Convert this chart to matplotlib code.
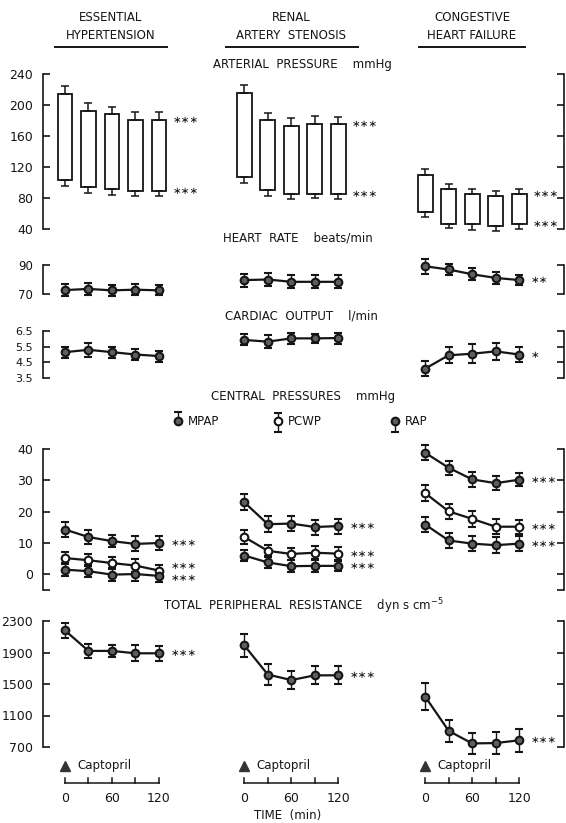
import numpy as np
import matplotlib.pyplot as plt
import matplotlib.transforms as mtransforms

plt.rcParams['font.family'] = ['DejaVu Sans']

W, H = 566, 823

times = [0, 30, 60, 90, 120]
groups = [['ESSENTIAL', 'HYPERTENSION'], ['RENAL', 'ARTERY  STENOSIS'], ['CONGESTIVE', 'HEART FAILURE']]

# arterial pressure, mmHg (systolic top / diastolic bottom, with SE)
sys_eh = [214, 192, 188, 181, 181]
sys_eh_se = [10, 10, 10, 10, 10]
dia_eh = [103, 94, 91, 89, 89]
dia_eh_se = [7, 7, 7, 7, 7]
sys_ras = [216, 181, 173, 175, 176]
sys_ras_se = [10, 9, 10, 11, 9]
dia_ras = [107, 90, 85, 85, 85]
dia_ras_se = [8, 7, 6, 5, 6]
sys_chf = [110, 92, 85, 83, 85]
sys_chf_se = [7, 6, 7, 6, 6]
dia_chf = [62, 47, 46, 44, 46]
dia_chf_se = [6, 6, 7, 7, 6]

# heart rate, beats/min
hr_eh = [72.7, 73.5, 72.5, 73.0, 72.5]
hr_ras = [79.6, 80.0, 78.4, 78.4, 78.4]
hr_chf = [89.1, 86.9, 83.6, 81.1, 79.6]
hr_se_eh = [4, 4, 4, 4, 3.5]
hr_se_ras = [4.5, 4.5, 4.5, 4.5, 4.5]
hr_se_chf = [5, 4, 4, 4, 3.5]

# cardiac output, l/min
co_eh = [5.15, 5.3, 5.15, 5.0, 4.9]
co_ras = [5.93, 5.82, 6.03, 6.03, 6.05]
co_chf = [4.1, 4.95, 5.05, 5.2, 5.0]
co_se_eh = [0.35, 0.45, 0.35, 0.35, 0.35]
co_se_ras = [0.35, 0.4, 0.35, 0.3, 0.35]
co_se_chf = [0.5, 0.5, 0.6, 0.55, 0.45]

# central pressures, mmHg
mpap_eh = [14.3, 11.9, 10.6, 9.7, 10.0]
pcwp_eh = [5.2, 4.5, 3.6, 2.8, 1.2]
rap_eh = [1.5, 1.0, -0.1, 0.1, -0.5]
mpap_ras = [23.0, 16.0, 16.2, 15.1, 15.4]
pcwp_ras = [11.9, 7.5, 6.5, 6.9, 6.6]
rap_ras = [6.0, 3.8, 2.6, 2.7, 2.7]
mpap_chf = [38.8, 34.0, 30.3, 29.1, 30.2]
pcwp_chf = [25.9, 20.1, 17.7, 15.2, 15.2]
rap_chf = [15.9, 10.8, 9.8, 9.3, 9.8]
mpap_se = [[2.3, 2.2, 2.0, 2.4, 2.2], [2.6, 2.6, 2.4, 2.4, 2.4], [2.4, 2.3, 2.3, 2.3, 2.0]]
pcwp_se = [[2.0, 1.9, 2.0, 2.0, 1.7], [2.2, 2.0, 2.0, 2.0, 2.0], [2.5, 2.5, 2.6, 2.4, 2.3]]
rap_se = [[2.0, 2.0, 2.0, 2.2, 1.8], [1.8, 1.9, 1.9, 1.9, 1.7], [2.3, 2.3, 2.5, 2.5, 2.4]]

# total peripheral resistance, dyn s cm-5
tpr_eh = [2180, 1920, 1920, 1890, 1890]
tpr_ras = [1990, 1620, 1550, 1610, 1610]
tpr_chf = [1340, 905, 745, 750, 785]
tpr_se = [[100, 85, 80, 100, 95], [150, 130, 110, 115, 115], [170, 140, 130, 140, 145]]

fig = plt.figure(figsize=(W / 100, H / 100), dpi=100)
ov = fig.add_axes([0, 0, 1, 1])
ov.set_xlim(0, W)
ov.set_ylim(H, 0)
ov.axis('off')

L, R = 43, 564
t0_px, px_min = 65, 0.783
offs = [0, 229, 460]
xlim = ((L - t0_px) / px_min, (R - t0_px) / px_min)
ink = '#151515'


def row_axes(v_top, y_top, v_bot, y_bot, ticks, labels, lsize=9, pad=18):
    scale = (y_bot - y_top) / (v_top - v_bot)
    top, bot = y_top - pad, y_bot + pad
    ax = fig.add_axes([L / W, 1 - bot / H, (R - L) / W, (bot - top) / H])
    ax.set_xlim(*xlim)
    ax.set_ylim(v_bot - pad / scale, v_top + pad / scale)
    ax.patch.set_visible(False)
    for s in ['top', 'bottom']:
        ax.spines[s].set_visible(False)
    for s in ['left', 'right']:
        ax.spines[s].set_bounds(v_bot, v_top)
        ax.spines[s].set_linewidth(1.2)
        ax.spines[s].set_color(ink)
    ax.set_xticks([])
    ax.set_yticks(ticks)
    ax.set_yticklabels(labels)
    ax.tick_params(axis='y', direction='in', length=5, width=1.2, colors=ink,
                   left=True, right=True, labelleft=True, labelright=False,
                   labelsize=lsize, pad=7)
    return ax


def stars(ax, x, y, s, dx=8.5, dy=0):
    ax.annotate(s, xy=(x, y), xytext=(dx, dy), textcoords='offset points',
                ha='left', va='center', fontsize=7.5, color=ink)


def series(ax, x, y, se, filled=True):
    fc = '#5e5e5e' if filled else 'white'
    ax.errorbar(x, y, yerr=se, color=ink, lw=1.6, marker='o', ms=5.5,
                mfc=fc, mec=ink, mew=1.5, ecolor=ink, elinewidth=1.0,
                capsize=3, capthick=1.1, zorder=3)


# ---------- arterial pressure
ax_ap = row_axes(240, 74, 40, 229, [40, 80, 120, 160, 200, 240],
                 ['40', '80', '120', '160', '200', '240'])
sys_all = [sys_eh, sys_ras, sys_chf]
sys_se_all = [sys_eh_se, sys_ras_se, sys_chf_se]
dia_all = [dia_eh, dia_ras, dia_chf]
dia_se_all = [dia_eh_se, dia_ras_se, dia_chf_se]
for c in range(3):
    x = np.array(times) + offs[c]
    s = np.array(sys_all[c])
    d = np.array(dia_all[c])
    z = np.zeros(len(x))
    ax_ap.bar(x, s - d, bottom=d, width=19, facecolor='white', edgecolor=ink,
              linewidth=1.3, zorder=2)
    ax_ap.errorbar(x, s, yerr=[z, sys_se_all[c]], fmt='none', ecolor=ink,
                   elinewidth=1.1, capsize=3, capthick=1.1)
    ax_ap.errorbar(x, d, yerr=[dia_se_all[c], z], fmt='none', ecolor=ink,
                   elinewidth=1.1, capsize=3, capthick=1.1)
    stars(ax_ap, x[-1], s[-1], '∗∗∗', dx=10)
    stars(ax_ap, x[-1], d[-1], '∗∗∗', dx=10)

# ---------- heart rate
ax_hr = row_axes(90, 265, 70, 294, [70, 90], ['70', '90'], lsize=8.5)
hr_all = [hr_eh, hr_ras, hr_chf]
hr_se_all = [hr_se_eh, hr_se_ras, hr_se_chf]
for c in range(3):
    x = np.array(times) + offs[c]
    series(ax_hr, x, hr_all[c], hr_se_all[c])
stars(ax_hr, times[-1] + offs[2], hr_chf[-1], '∗∗')

# ---------- cardiac output
ax_co = row_axes(6.5, 331, 3.5, 378, [3.5, 4.5, 5.5, 6.5],
                 ['3.5', '4.5', '5.5', '6.5'], lsize=8)
co_all = [co_eh, co_ras, co_chf]
co_se_all = [co_se_eh, co_se_ras, co_se_chf]
for c in range(3):
    x = np.array(times) + offs[c]
    series(ax_co, x, co_all[c], co_se_all[c])
stars(ax_co, times[-1] + offs[2], co_chf[-1], '∗')

# ---------- central pressures
ax_cp = row_axes(40, 449, -5, 590, [-5, 0, 10, 20, 30, 40],
                 ['', '0', '10', '20', '30', '40'])
mpap_all = [mpap_eh, mpap_ras, mpap_chf]
pcwp_all = [pcwp_eh, pcwp_ras, pcwp_chf]
rap_all = [rap_eh, rap_ras, rap_chf]
for c in range(3):
    x = np.array(times) + offs[c]
    series(ax_cp, x, mpap_all[c], mpap_se[c])
    series(ax_cp, x, pcwp_all[c], pcwp_se[c], filled=False)
    series(ax_cp, x, rap_all[c], rap_se[c])
    up = 3 if c == 0 else 0
    stars(ax_cp, x[-1], mpap_all[c][-1], '∗∗∗')
    stars(ax_cp, x[-1], pcwp_all[c][-1], '∗∗∗', dy=up)
    stars(ax_cp, x[-1], rap_all[c][-1], '∗∗∗', dy=-up / 2)

# ---------- total peripheral resistance
ax_tp = row_axes(2300, 621, 700, 747, [700, 1100, 1500, 1900, 2300],
                 ['700', '1100', '1500', '1900', '2300'])
tpr_all = [tpr_eh, tpr_ras, tpr_chf]
for c in range(3):
    x = np.array(times) + offs[c]
    series(ax_tp, x, tpr_all[c], tpr_se[c])
    stars(ax_tp, x[-1], tpr_all[c][-1], '∗∗∗')

# ---------- headings
tfs = 8.5
for c, (a, b) in enumerate(groups):
    cx = [110.5, 291.5, 472][c]
    half = [56, 66, 53][c]
    ov.text(cx, 17, a, ha='center', va='center', fontsize=tfs, color=ink)
    ov.text(cx, 35, b, ha='center', va='center', fontsize=tfs, color=ink)
    ov.plot([cx - half, cx + half], [47, 47], color=ink, lw=1.4)

ov.text(302, 64, 'ARTERIAL  PRESSURE    mmHg', ha='center', va='center', fontsize=tfs, color=ink)
ov.text(298, 238, 'HEART  RATE    beats/min', ha='center', va='center', fontsize=tfs, color=ink)
ov.text(301, 316, 'CARDIAC  OUTPUT    l/min', ha='center', va='center', fontsize=tfs, color=ink)
ov.text(303, 396, 'CENTRAL  PRESSURES    mmHg', ha='center', va='center', fontsize=tfs, color=ink)
ov.text(303, 606, 'TOTAL  PERIPHERAL  RESISTANCE    dyn s cm$^{-5}$', ha='center', va='center',
        fontsize=tfs, color=ink)

# legend of central pressures
leg = [('MPAP', 178, [[9], [0]], True), ('PCWP', 278, [[8], [11]], False), ('RAP', 395, [[0], [11]], True)]
for name, lx, err, filled in leg:
    fc = '#5e5e5e' if filled else 'white'
    ov.errorbar([lx], [421], yerr=err, fmt='o', ms=5.5, mfc=fc, mec=ink, mew=1.5,
                ecolor=ink, elinewidth=1.0, capsize=3, capthick=1.1)
    ov.text(lx + 10, 421, name, ha='left', va='center', fontsize=tfs, color=ink)

# captopril marks and time scales
bt = mtransforms.blended_transform_factory(ax_tp.transData, ov.transData)
for c in range(3):
    x = np.array(times) + offs[c]
    ov.plot([x[0]], [766], marker='^', ms=6.5, color='#333333', transform=bt, clip_on=False)
    ov.annotate('Captopril', xy=(x[0], 765), xycoords=bt, xytext=(9, 0), textcoords='offset points',
                ha='left', va='center', fontsize=tfs, color=ink)
    ov.plot([x[0], x[-1]], [783, 783], color=ink, lw=1.1, transform=bt, clip_on=False)
    for xi in x:
        ov.plot([xi, xi], [778, 783], color=ink, lw=1.1, transform=bt, clip_on=False)
    for t in [0, 60, 120]:
        ov.text(t + offs[c], 799, str(t), ha='center', va='center', fontsize=9,
                color=ink, transform=bt)
ov.text(288, 815, 'TIME  (min)', ha='center', va='center', fontsize=tfs, color=ink)

fig.savefig('out.png', dpi=100, facecolor='white')
